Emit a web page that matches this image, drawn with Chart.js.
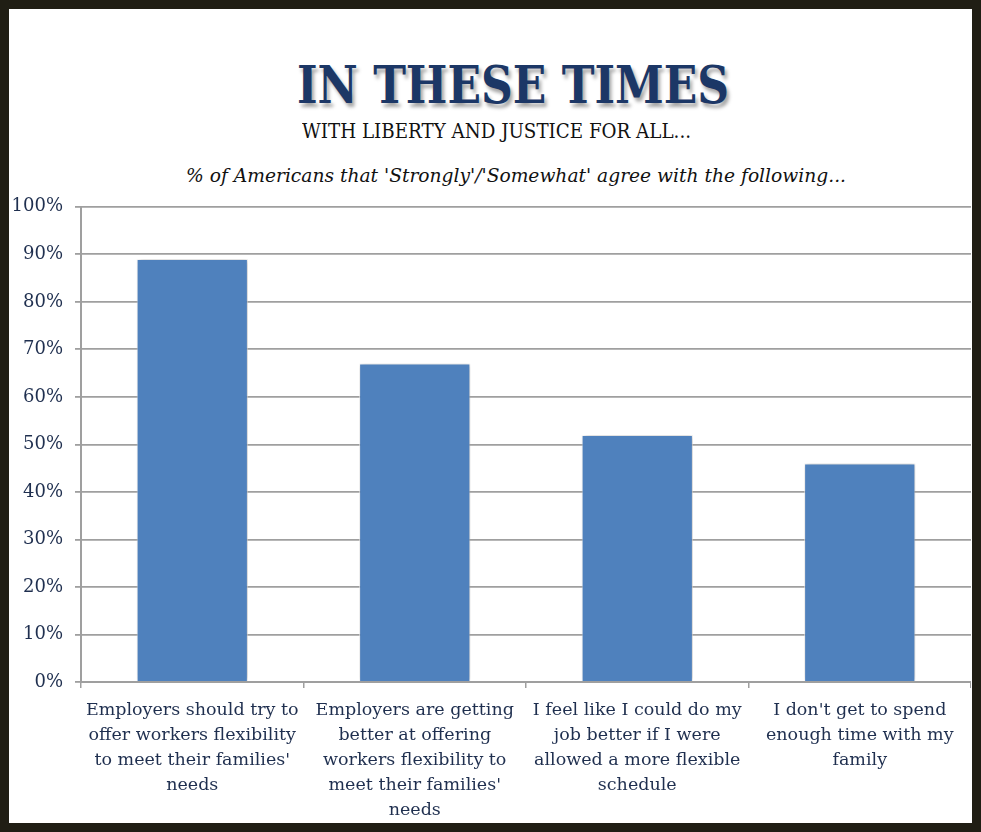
<!DOCTYPE html>
<html>
<head>
<meta charset="utf-8">
<script src="https://cdn.jsdelivr.net/npm/chart.js@4/dist/chart.umd.min.js"></script>
<style>
  html, body { margin: 0; padding: 0; background: #fff; }
  #frame {
    position: relative; width: 981px; height: 832px;
    box-sizing: border-box; border: 9px solid #201e14; background: #fff;
    overflow: hidden;
  }
  .head { position: absolute; left: 0; white-space: nowrap; transform-origin: 0 0; }
  #title {
    font-family: "DejaVu Serif", serif; font-weight: bold; font-size: 52px;
    color: #1c3766; line-height: 52px;
    text-shadow: 3px 4px 4px rgba(0,0,0,0.35);
  }
  #sub {
    font-family: "DejaVu Serif", serif; font-size: 21px; color: #111; line-height: 21px;
  }
  #note {
    font-family: "DejaVu Serif", serif; font-style: italic; font-size: 18px; color: #111; line-height: 18px;
  }
  #c { position: absolute; left: 0; top: 175px; }
</style>
</head>
<body>
<div id="frame">
  <div id="title" class="head">IN THESE TIMES</div>
  <div id="sub" class="head">WITH LIBERTY AND JUSTICE FOR ALL...</div>
  <div id="note" class="head">% of Americans that 'Strongly'/'Somewhat' agree with the following...</div>
  <canvas id="c" width="962" height="638"></canvas>
</div>
<script>
// chart values
const categories = [
  ["Employers should try to", "offer workers flexibility", "to meet their families'", "needs"],
  ["Employers are getting", "better at offering", "workers flexibility to", "meet their families'", "needs"],
  ["I feel like I could do my", "job better if I were", "allowed a more flexible", "schedule"],
  ["I don't get to spend", "enough time with my", "family"]
];
const agreePct = [89, 67, 52, 46];
const yTicks = [0, 10, 20, 30, 40, 50, 60, 70, 80, 90, 100];

// fit the heading lines to the widths seen in the reference (page coords minus the 9px border)
function place(id, left, top, width) {
  const el = document.getElementById(id);
  const w = el.getBoundingClientRect().width;
  el.style.left = (left - 9) + 'px';
  el.style.top = (top - 9) + 'px';
  el.style.transform = 'scaleX(' + (width / w) + ')';
}
place('title', 297, 59, 432);
place('sub', 302, 121, 389);
place('note', 186, 167, 660);

const gridGray = '#9f9f9f';
const navy = '#1f2f4f';

const barShadow = {
  id: 'barShadow',
  beforeDatasetsDraw(chart) {
    const ctx = chart.ctx;
    ctx.save();
    ctx.shadowColor = 'rgba(0,0,0,0.3)';
    ctx.shadowBlur = 5;
    ctx.shadowOffsetX = 1;
    ctx.shadowOffsetY = 0;
  },
  afterDatasetsDraw(chart) {
    chart.ctx.restore();
  }
};

new Chart(document.getElementById('c').getContext('2d'), {
  type: 'bar',
  data: {
    labels: categories,
    datasets: [{
      data: agreePct,
      backgroundColor: '#4f81bd',
      borderColor: 'rgba(255,255,255,0.7)',
      borderWidth: 1,
      barPercentage: 0.5,
      categoryPercentage: 1
    }]
  },
  options: {
    responsive: false,
    animation: false,
    layout: { padding: { top: 14, left: 0, right: 0, bottom: 0 } },
    plugins: { legend: { display: false }, tooltip: { enabled: false } },
    scales: {
      x: {
        grid: { drawOnChartArea: false, drawTicks: true, tickLength: 6, color: gridGray, lineWidth: 1.5 },
        border: { display: true, color: gridGray, width: 2 },
        ticks: {
          color: navy, maxRotation: 0, autoSkip: false, padding: 10,
          font: { family: 'DejaVu Serif', size: 17.5, lineHeight: 1.43 }
        },
        afterFit(s) { s.height = 140; }
      },
      y: {
        min: 0, max: 100,
        afterBuildTicks(s) { s.ticks = yTicks.map(v => ({ value: v })); },
        grid: { color: gridGray, lineWidth: 1.8, tickLength: 6, drawTicks: true },
        border: { display: true, color: gridGray, width: 2 },
        ticks: {
          color: navy, padding: 12,
          font: { family: 'DejaVu Serif', size: 18 },
          callback: v => v + '%'
        },
        afterFit(s) { s.width = 72; }
      }
    }
  },
  plugins: [barShadow]
});
</script>
</body>
</html>
